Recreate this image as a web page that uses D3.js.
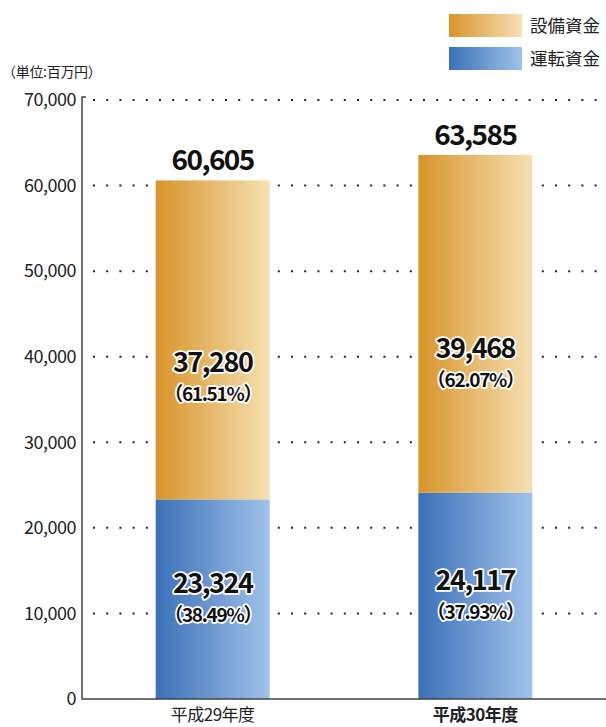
<!DOCTYPE html>
<html>
<head>
<meta charset="utf-8">
<script src="https://cdn.jsdelivr.net/npm/d3@7"></script>
<style>
  body { margin: 0; background: #fff; }
  text { font-family: "Noto Sans CJK JP", "Open Sans", sans-serif; }
</style>
</head>
<body>
<div id="chart"></div>
<script>
const years = ["平成29年度", "平成30年度"];
const unyou = [23324, 24117];      // 運転資金
const setsubi = [37280, 39468];    // 設備資金
const totals = [60605, 63585];
const unyouPct = ["38.49%", "37.93%"];
const setsubiPct = ["61.51%", "62.07%"];
const yTicks = [0, 10000, 20000, 30000, 40000, 50000, 60000, 70000];
const legendNames = ["設備資金", "運転資金"];

const layout = {
    width: 606,
    height: 727,
    marginLeft: 82,
    axisTop: 100,
    axisBottom: 699,
    barWidth: 114
};

let svg = d3.select("#chart").append("svg")
    .attr("width", layout.width)
    .attr("height", layout.height);

// gradients
let defs = svg.append("defs");
function grad(id, c1, c2) {
    let g = defs.append("linearGradient").attr("id", id)
        .attr("x1", "0%").attr("x2", "100%").attr("y1", "0%").attr("y2", "0%");
    g.append("stop").attr("offset", "0%").attr("stop-color", c1);
    g.append("stop").attr("offset", "100%").attr("stop-color", c2);
}
grad("gOrange", "#d8942a", "#f6e0b3");
grad("gBlue", "#3b70b7", "#a0c2ea");

let yScale = d3.scaleLinear().domain([0, 70000]).range([layout.axisBottom, layout.axisTop]);
let xScale = d3.scaleBand().domain(years).range([layout.marginLeft, layout.width])
    .paddingInner(0.565).paddingOuter(0.28);

// dotted grid lines
svg.append("g").selectAll("line")
    .data(yTicks.filter(d => d > 0))
    .join("line")
    .attr("x1", layout.marginLeft + 11)
    .attr("x2", layout.width)
    .attr("y1", d => yScale(d))
    .attr("y2", d => yScale(d))
    .attr("stroke", "#222")
    .attr("stroke-width", 2)
    .attr("stroke-dasharray", "2 11.2");

// bars
let bx = i => xScale(years[i]) + xScale.bandwidth() / 2 - layout.barWidth / 2;
let bars = svg.append("g");
bars.selectAll(".blue").data(unyou).join("rect")
    .attr("x", (d, i) => bx(i))
    .attr("width", layout.barWidth)
    .attr("y", d => yScale(d))
    .attr("height", d => yScale(0) - yScale(d))
    .attr("fill", "url(#gBlue)");
bars.selectAll(".orange").data(setsubi).join("rect")
    .attr("x", (d, i) => bx(i))
    .attr("width", layout.barWidth)
    .attr("y", (d, i) => yScale(unyou[i] + d))
    .attr("height", (d, i) => yScale(unyou[i]) - yScale(unyou[i] + d))
    .attr("fill", "url(#gOrange)");

// axes
svg.append("path")
    .attr("d", `M${layout.marginLeft + 4},${layout.axisTop - 3}H${layout.marginLeft}V${layout.axisBottom}H${layout.width}`)
    .attr("fill", "none")
    .attr("stroke", "#444")
    .attr("stroke-width", 1.5);

svg.append("g").selectAll("text")
    .data(yTicks)
    .join("text")
    .attr("x", layout.marginLeft - 6)
    .attr("y", d => yScale(d))
    .attr("dy", "0.35em")
    .attr("text-anchor", "end")
    .attr("font-size", 18)
    .attr("letter-spacing", -0.5)
    .attr("fill", "#222")
    .text(d => d3.format(",")(d));

svg.append("text")
    .attr("x", 2)
    .attr("y", 77)
    .attr("font-size", 14)
    .attr("letter-spacing", -0.3)
    .attr("fill", "#222")
    .text("（単位:百万円）");

// category labels
svg.append("g").selectAll("text")
    .data(years)
    .join("text")
    .attr("x", d => xScale(d) + xScale.bandwidth() / 2)
    .attr("y", 721)
    .attr("text-anchor", "middle")
    .attr("font-size", 17)
    .attr("font-weight", (d, i) => i == 1 ? "bold" : "normal")
    .attr("letter-spacing", -0.5)
    .attr("fill", "#222")
    .text(d => d);

// totals
svg.append("g").selectAll("text")
    .data(totals)
    .join("text")
    .attr("x", (d, i) => bx(i) + layout.barWidth / 2)
    .attr("y", d => yScale(d) - 10)
    .attr("text-anchor", "middle")
    .attr("font-size", 28)
    .attr("font-weight", "bold")
    .attr("letter-spacing", -1.6)
    .attr("fill", "#111")
    .text(d => d3.format(",")(d));

// value labels with white halo
function segLabels(vals, pcts, base, k) {
    let g = svg.append("g");
    vals.forEach((v, i) => {
        let cx = bx(i) + layout.barWidth / 2;
        let cy = yScale(base[i] + v * k);
        [[d3.format(",")(v), 27, -1.5, cy - 6], ["（" + pcts[i] + "）", 19, -1.3, cy + 23]].forEach(t => {
            g.append("text")
                .attr("x", cx)
                .attr("y", t[3])
                .attr("text-anchor", "middle")
                .attr("font-size", t[1])
                .attr("font-weight", "bold")
                .attr("letter-spacing", t[2])
                .attr("fill", "#111")
                .attr("stroke", "#fff")
                .attr("stroke-width", 3.5)
                .attr("stroke-linejoin", "round")
                .attr("paint-order", "stroke")
                .text(t[0]);
        });
    });
}
segLabels(setsubi, setsubiPct, unyou, 0.38);
segLabels(unyou, unyouPct, [0, 0], 0.5);

// legend
let legend = svg.append("g");
legendNames.forEach((name, i) => {
    legend.append("rect")
        .attr("x", 449)
        .attr("y", 14 + i * 33)
        .attr("width", 73)
        .attr("height", 23)
        .attr("fill", i == 0 ? "url(#gOrange)" : "url(#gBlue)");
    legend.append("text")
        .attr("x", 530)
        .attr("y", 26 + i * 33)
        .attr("dy", "0.35em")
        .attr("font-size", 17.5)
        .attr("fill", "#222")
        .text(name);
});
</script>
</body>
</html>
